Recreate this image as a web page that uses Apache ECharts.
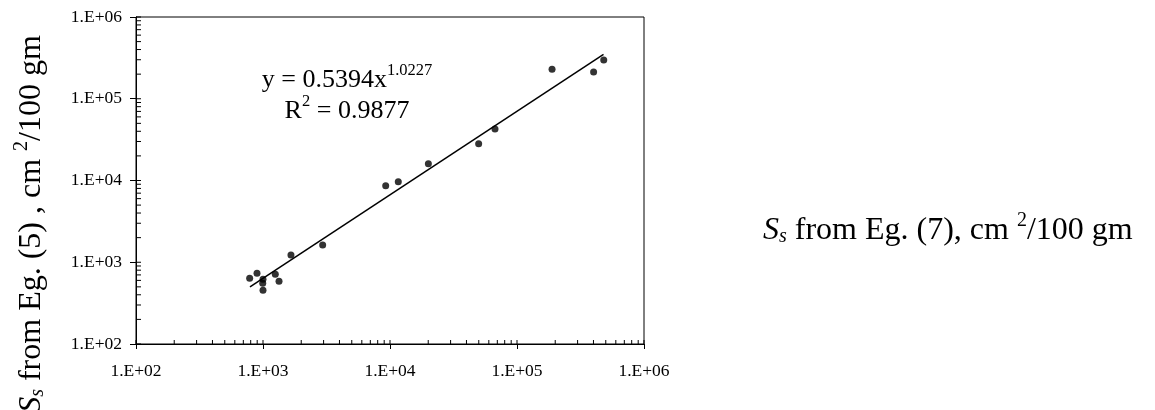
<!DOCTYPE html>
<html>
<head>
<meta charset="utf-8">
<script src="https://cdn.jsdelivr.net/npm/echarts@6/dist/echarts.min.js"></script>
<style>
html,body{margin:0;padding:0;background:#fff;}
#chart{width:1155px;height:410px;}
</style>
</head>
<body>
<div id="chart"></div>
<script>
// ---- data ----
const obsX = [785, 897, 1000, 995, 1000, 1250, 1337, 1660, 2950, 9250, 11620, 20050, 49900, 67100, 188800, 401000, 482000];
const obsY = [637, 733, 618, 553, 454, 713, 585, 1227, 1626, 8650, 9670, 16070, 28200, 42700, 229000, 212000, 298000];
const trendX = [790, 480000];
const trendY = [500, 348000];
const xTickLabels = ['1.E+02', '1.E+03', '1.E+04', '1.E+05', '1.E+06'];
const yTickLabels = ['1.E+02', '1.E+03', '1.E+04', '1.E+05', '1.E+06'];
const minorTickValues = [
  100, 200, 300, 400, 500, 600, 700, 800, 900,
  1000, 2000, 3000, 4000, 5000, 6000, 7000, 8000, 9000,
  10000, 20000, 30000, 40000, 50000, 60000, 70000, 80000, 90000,
  100000, 200000, 300000, 400000, 500000, 600000, 700000, 800000, 900000,
  1000000
];
const equationText = ['y = 0.5394x', '1.0227', 'R', '2', ' = 0.9877'];

const FONT = '"Liberation Serif", "Times New Roman", serif';
const chart = echarts.init(document.getElementById('chart'));

function labelFor(list) {
  return function (v) {
    const i = Math.round(Math.log10(v)) - 2;
    return list[i] !== undefined ? list[i] : '';
  };
}

chart.setOption({
  animation: false,
  grid: { left: 136, top: 17, right: 511, bottom: 66, show: true, borderColor: '#000', borderWidth: 1, backgroundColor: 'transparent' },
  xAxis: {
    type: 'log', logBase: 10, min: 100, max: 1000000,
    axisLine: { lineStyle: { color: '#000', width: 1 } },
    axisTick: { show: true, inside: false, length: 5, lineStyle: { color: '#000' } },
    axisLabel: { color: '#000', fontFamily: FONT, fontSize: 17.5, margin: 18, formatter: labelFor(xTickLabels) },
    splitLine: { show: false }
  },
  yAxis: {
    type: 'log', logBase: 10, min: 100, max: 1000000,
    axisLine: { lineStyle: { color: '#000', width: 1 } },
    axisTick: { show: true, inside: false, length: 6, lineStyle: { color: '#000' } },
    axisLabel: { color: '#000', fontFamily: FONT, fontSize: 17.5, margin: 14, formatter: labelFor(yTickLabels) },
    splitLine: { show: false }
  },
  series: [
    {
      type: 'custom', silent: true, clip: false,
      data: minorTickValues.map(v => [v, 100]),
      encode: { x: 0, y: 1 },
      renderItem: function (params, api) {
        const p = api.coord([api.value(0), 100]);
        return { type: 'line', shape: { x1: p[0], y1: p[1], x2: p[0], y2: p[1] - 4 }, style: { stroke: '#000', lineWidth: 1 } };
      },
      z: 3
    },
    {
      type: 'custom', silent: true, clip: false,
      data: minorTickValues.map(v => [100, v]),
      encode: { x: 0, y: 1 },
      renderItem: function (params, api) {
        const p = api.coord([100, api.value(1)]);
        return { type: 'line', shape: { x1: p[0], y1: p[1], x2: p[0] + 5, y2: p[1] }, style: { stroke: '#000', lineWidth: 1 } };
      },
      z: 3
    },
    {
      type: 'line',
      data: trendX.map((x, i) => [x, trendY[i]]),
      showSymbol: false, symbol: 'none',
      lineStyle: { color: '#000', width: 1.5 },
      z: 4
    },
    {
      type: 'scatter',
      data: obsX.map((x, i) => [x, obsY[i]]),
      symbol: 'circle', symbolSize: 7,
      itemStyle: { color: '#000' },
      z: 5
    }
  ],
  graphic: [
    {
      type: 'text', x: 347, y: 62,
      style: {
        text: '{t|' + equationText[0] + '}{sup|' + equationText[1] + '}\n{t|' + equationText[2] + '}{sup|' + equationText[3] + '}{t|' + equationText[4] + '}',
        align: 'center', verticalAlign: 'top',
        fill: '#000',
        rich: {
          t: { fontFamily: FONT, fontSize: 26, lineHeight: 31, verticalAlign: 'bottom', align: 'center', fill: '#000' },
          sup: { fontFamily: FONT, fontSize: 16.5, lineHeight: 31, verticalAlign: 'top', align: 'center', fill: '#000' }
        }
      }
    },
    {
      type: 'text', x: 763, y: 229,
      style: {
        text: '{i|S}{sub|s}{t| from Eg. (7), cm }{sup|2}{t|/100 gm}',
        verticalAlign: 'middle',
        fill: '#000',
        rich: {
          i: { fontFamily: FONT, fontStyle: 'italic', fontSize: 32, lineHeight: 36, verticalAlign: 'bottom', fill: '#000' },
          sub: { fontFamily: FONT, fontStyle: 'italic', fontSize: 20, lineHeight: 21, verticalAlign: 'bottom', fill: '#000' },
          t: { fontFamily: FONT, fontSize: 32, lineHeight: 36, verticalAlign: 'bottom', fill: '#000' },
          sup: { fontFamily: FONT, fontSize: 20, lineHeight: 36, verticalAlign: 'top', fill: '#000' }
        }
      }
    },
    {
      type: 'text', x: 30, y: 224, rotation: Math.PI / 2,
      style: {
        text: '{i|S}{sub|s}{t| from Eg. (5) , cm }{sup|2}{t|/100 gm}',
        align: 'center', verticalAlign: 'middle',
        fill: '#000',
        rich: {
          i: { fontFamily: FONT, fontStyle: 'italic', fontSize: 32, lineHeight: 36, verticalAlign: 'bottom', fill: '#000' },
          sub: { fontFamily: FONT, fontStyle: 'italic', fontSize: 20, lineHeight: 21, verticalAlign: 'bottom', fill: '#000' },
          t: { fontFamily: FONT, fontSize: 32, lineHeight: 36, verticalAlign: 'bottom', fill: '#000' },
          sup: { fontFamily: FONT, fontSize: 20, lineHeight: 36, verticalAlign: 'top', fill: '#000' }
        }
      }
    }
  ]
});
</script>
</body>
</html>
